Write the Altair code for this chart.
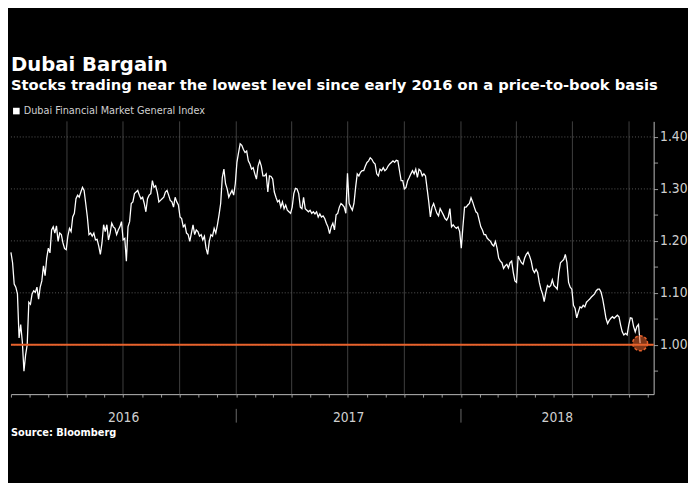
import altair as alt
import pandas as pd

seg_2016a = [1.178, 1.158, 1.117, 1.111, 1.098, 1.013, 1.039, 1.006, 0.949, 0.980,
             1.000, 1.082, 1.078, 1.098, 1.104, 1.101, 1.111, 1.088, 1.111, 1.123,
             1.152, 1.133, 1.167, 1.186, 1.177, 1.221, 1.227, 1.215, 1.229, 1.199,
             1.215, 1.212, 1.196, 1.185, 1.183, 1.209, 1.224, 1.218, 1.246, 1.253,
             1.281, 1.288, 1.284, 1.294, 1.303, 1.297, 1.272, 1.246, 1.212, 1.215,
             1.209, 1.215, 1.202, 1.203, 1.190, 1.174, 1.196, 1.231, 1.218, 1.231,
             1.202, 1.215, 1.234, 1.227, 1.224, 1.212, 1.221, 1.227, 1.237, 1.202]
seg_2016b = [1.205, 1.161, 1.227, 1.237, 1.272, 1.275, 1.291, 1.294, 1.297, 1.288,
             1.281, 1.284, 1.272, 1.256, 1.281, 1.288, 1.291, 1.316, 1.303, 1.306,
             1.294, 1.275, 1.278, 1.281, 1.284, 1.294, 1.297, 1.288, 1.278, 1.275,
             1.265, 1.284, 1.275, 1.269, 1.246, 1.243, 1.227, 1.231, 1.215, 1.212,
             1.199, 1.215, 1.231, 1.212, 1.221, 1.218, 1.209, 1.212, 1.202, 1.209,
             1.186, 1.174, 1.199, 1.212, 1.209, 1.224, 1.215, 1.231, 1.250, 1.272,
             1.322, 1.338, 1.310, 1.300, 1.284, 1.291]
seg_2017a = [1.297, 1.288, 1.310, 1.351, 1.370, 1.387, 1.384, 1.376, 1.370, 1.373,
             1.354, 1.348, 1.338, 1.341, 1.329, 1.319, 1.344, 1.354, 1.344, 1.325,
             1.325, 1.329, 1.294, 1.325, 1.324, 1.319, 1.294, 1.284, 1.275, 1.278,
             1.265, 1.275, 1.262, 1.269, 1.259, 1.256, 1.253, 1.265, 1.291, 1.301,
             1.300, 1.291, 1.265, 1.262, 1.284, 1.262, 1.259, 1.256, 1.259, 1.253,
             1.256, 1.252, 1.256, 1.246, 1.252, 1.246, 1.248, 1.243, 1.234, 1.227,
             1.214, 1.227, 1.234, 1.221, 1.250, 1.253]
seg_2017b = [1.265, 1.272, 1.269, 1.265, 1.253, 1.330, 1.272, 1.265, 1.259, 1.272,
             1.303, 1.329, 1.325, 1.332, 1.335, 1.335, 1.344, 1.351, 1.354, 1.360,
             1.357, 1.351, 1.348, 1.329, 1.325, 1.338, 1.335, 1.341, 1.335, 1.338,
             1.344, 1.348, 1.351, 1.354, 1.351, 1.355, 1.354, 1.335, 1.316, 1.316,
             1.300, 1.303, 1.316, 1.322, 1.329, 1.335, 1.329, 1.338, 1.322, 1.338,
             1.335, 1.325, 1.329, 1.325, 1.300, 1.275, 1.246, 1.265, 1.272, 1.262,
             1.253, 1.248, 1.262, 1.256, 1.250, 1.243]
seg_2018a = [1.240, 1.246, 1.262, 1.227, 1.231, 1.227, 1.224, 1.227, 1.218, 1.186,
             1.227, 1.265, 1.265, 1.269, 1.272, 1.283, 1.275, 1.265, 1.256, 1.253,
             1.240, 1.227, 1.221, 1.212, 1.212, 1.205, 1.202, 1.199, 1.193, 1.190,
             1.199, 1.186, 1.167, 1.161, 1.158, 1.147, 1.152, 1.155, 1.148, 1.158,
             1.161, 1.139, 1.123, 1.120, 1.171, 1.164, 1.158, 1.155, 1.167, 1.174,
             1.178, 1.171, 1.161, 1.145, 1.139, 1.145, 1.139, 1.120, 1.107, 1.098,
             1.083, 1.101, 1.114, 1.111, 1.114, 1.125]
seg_2018b = [1.114, 1.111, 1.107, 1.139, 1.158, 1.161, 1.164, 1.174, 1.158, 1.120,
             1.111, 1.107, 1.076, 1.070, 1.052, 1.063, 1.073, 1.071, 1.076, 1.073,
             1.082, 1.085, 1.088, 1.092, 1.095, 1.098, 1.104, 1.107, 1.107, 1.101,
             1.088, 1.070, 1.051, 1.041, 1.047, 1.051, 1.054, 1.051, 1.054, 1.057,
             1.054, 1.038, 1.025, 1.019, 1.022, 1.019, 1.038, 1.052, 1.051, 1.035,
             1.025, 1.035, 1.039, 1.003]

first_date = "2016-01-01"
last_date = "2018-10-19"
series_name = "Dubai Financial Market General Index"

quarter_lines = ["2016-04-01", "2016-07-01", "2016-10-01", "2017-01-01", "2017-04-01",
                 "2017-07-01", "2017-10-01", "2018-01-01", "2018-04-01", "2018-07-01",
                 "2018-10-01"]
year_names = ["2016", "2017", "2018"]
year_starts = ["2016-01-01", "2017-01-01", "2018-01-01"]
year_separators = ["2017-01-01", "2018-01-01"]
y_grid_values = [1.0, 1.1, 1.2, 1.3, 1.4]
y_tick_values = [0.95, 1.0, 1.05, 1.1, 1.15, 1.2, 1.25, 1.3, 1.35, 1.4]
threshold = [1.0]
x_start = "2016-01-01"
x_end = "2018-11-10"

title_text = "Dubai Bargain"
subtitle_text = "Stocks trading near the lowest level since early 2016 on a price-to-book basis"
source_text = "Source: Bloomberg"

# ---- tables ----
values = seg_2016a + seg_2016b + seg_2017a + seg_2017b + seg_2018a + seg_2018b
dates = pd.date_range(first_date, last_date, periods=len(values))
df = pd.DataFrame({"date": dates, "value": values, "series": series_name})
last_df = df.iloc[[-1]]

x_end_ts = pd.Timestamp(x_end)
year_mid = []
for s in year_starts:
    a = pd.Timestamp(s)
    b = min(pd.Timestamp(year=a.year + 1, month=1, day=1), x_end_ts)
    year_mid.append(a + (b - a) / 2)
years_df = pd.DataFrame({"date": year_mid, "label": year_names})
sep_df = pd.DataFrame({"date": pd.to_datetime(year_separators)})
q_df = pd.DataFrame({"date": pd.to_datetime(quarter_lines)})
yg_df = pd.DataFrame({"value": y_grid_values})
th_df = pd.DataFrame({"value": threshold})
src_df = pd.DataFrame({"t": [source_text]})

W, H = 655, 278
ORANGE = "#e8622c"
GRAY_TXT = "#cfcfcf"
NARROW = "'Liberation Sans Narrow', 'DejaVu Sans Condensed', 'Roboto Condensed', sans-serif"

xs = pd.Timestamp(x_start)
xscale = alt.Scale(domain=[alt.DateTime(year=xs.year, month=xs.month, date=xs.day),
                           alt.DateTime(year=x_end_ts.year, month=x_end_ts.month, date=x_end_ts.day)])
yscale = alt.Scale(domain=[0.905, 1.43], nice=False, zero=False)

x_axis = alt.Axis(title=None, labels=False, grid=False,
                  tickCount=alt.TimeIntervalStep(interval="month", step=1),
                  tickSize=3, tickColor="#9a9a9a", domainColor="#bdbdbd", domainWidth=1)
y_axis = alt.Axis(title=None, orient="right", values=y_tick_values, grid=False,
                  labelExpr="(datum.value > 0.999 && abs(datum.value*10 - round(datum.value*10)) < 0.01) ? format(datum.value, '.2f') : ''",
                  tickSize=4, tickColor="#9a9a9a", domainColor="#bdbdbd", domainWidth=1,
                  labelPadding=2, labelFont=NARROW, labelFontSize=14, labelColor=GRAY_TXT)

X = alt.X("date:T", scale=xscale, axis=x_axis)
Y = alt.Y("value:Q", scale=yscale, axis=y_axis)

vgrid = alt.Chart(q_df).mark_rule(color="#404040", strokeWidth=1).encode(x=X)
hgrid = alt.Chart(yg_df).mark_rule(color="#5a5a5a", strokeWidth=1, strokeDash=[1, 2]).encode(y=Y)

line = alt.Chart(df).mark_line(strokeWidth=1.3).encode(
    x=X, y=Y,
    color=alt.Color("series:N", scale=alt.Scale(range=["#ffffff"]),
                    legend=alt.Legend(title=None, orient="none", legendX=0, legendY=-16,
                                      symbolType="square", symbolSize=45,
                                      symbolFillColor="#ffffff", symbolStrokeColor="#ffffff",
                                      symbolStrokeWidth=0, labelOffset=2, labelLimit=0,
                                      labelFont=NARROW, labelFontSize=11, labelColor=GRAY_TXT)),
)
th_rule = alt.Chart(th_df).mark_rule(color=ORANGE, strokeWidth=2).encode(y=Y)
marker = alt.Chart(last_df).mark_point(filled=True, shape="circle", size=230, fill=ORANGE,
                                       fillOpacity=0.55, stroke=ORANGE, strokeWidth=1.5,
                                       strokeDash=[3, 2], strokeOpacity=1).encode(x=X, y=Y)
year_text = alt.Chart(years_df).mark_text(font=NARROW, fontSize=14, color=GRAY_TXT,
                                          baseline="middle").encode(
    x=X, y=alt.value(H + 24), text="label:N")
year_sep = alt.Chart(sep_df).mark_rule(color="#6a6a6a", strokeWidth=1).encode(
    x=X, y=alt.value(H + 15), y2=alt.value(H + 29))
source = alt.Chart(src_df).mark_text(font="DejaVu Sans", fontWeight="bold", fontSize=10,
                                     color="#ffffff", align="left", baseline="middle").encode(
    x=alt.value(0), y=alt.value(H + 40), text="t:N")

chart = alt.layer(vgrid, hgrid, line, th_rule, marker, year_text, year_sep, source).properties(
    width=W, height=H,
    background="#000000",
    padding={"top": 44, "left": 0, "right": 0, "bottom": 41},
    title=alt.Title(title_text, subtitle=subtitle_text, anchor="start", frame="group",
                    font="DejaVu Sans", fontSize=20, fontWeight="bold", color="#ffffff",
                    subtitleFont="DejaVu Sans", subtitleFontSize=15, subtitleFontWeight="bold",
                    subtitleColor="#ffffff", subtitlePadding=3, offset=13),
).configure_view(stroke=None)

chart.save("out.html", embed_options={"renderer": "svg", "actions": False})
